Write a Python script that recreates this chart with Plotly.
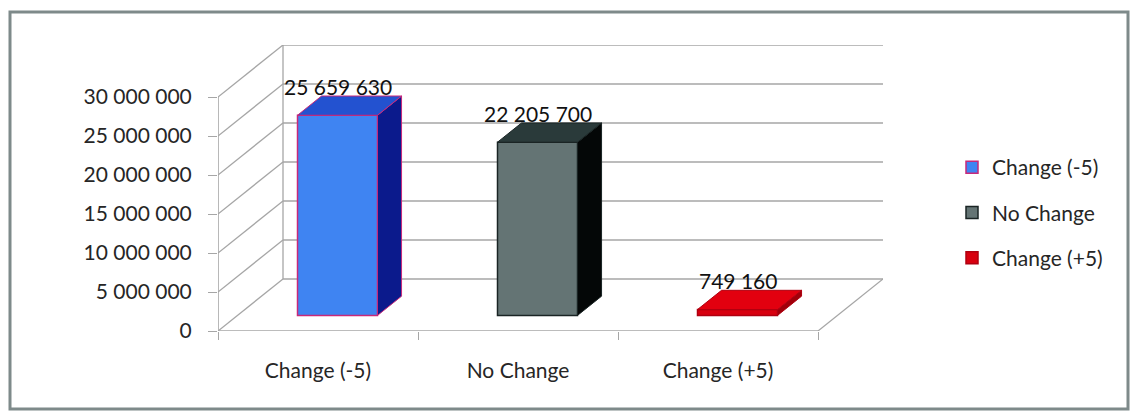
import plotly.graph_objects as go

# ---- data -------------------------------------------------------------
categories = ["Change (-5)", "No Change", "Change (+5)"]
values = [25659630, 22205700, 749160]
y_ticks = [0, 5000000, 10000000, 15000000, 20000000, 25000000, 30000000]

# ---- styles -----------------------------------------------------------
front_colors = ["#3f84f2", "#647474", "#d8000f"]
top_colors = ["#2352d0", "#2a3a3a", "#e2000f"]
side_colors = ["#0b1a8c", "#040707", "#a0000a"]
edge_colors = ["#c8287a", "#1a2424", "#b00010"]
GRID = "#a6a6a6"
TEXT = "#262626"
FONT = "Lato"

# ---- geometry of the pseudo-3D box -----------------------------------
W, H = 1134, 412
L, R, T, B = 218, 251, 45, 81
plot_w, plot_h = W - L - R, H - T - B

Y_MAX = y_ticks[-1]
DX = 0.325                  # depth offset along x (category units)
DY = Y_MAX * 0.2222         # depth offset along y (value units)
F_FRONT, F_BACK = 0.30, 0.67  # depth fractions of the bar front/back faces
BAR_W = 0.4

X_LO, X_HI = -0.5, len(categories) - 0.5


def fmt(v):
    return f"{v:,}".replace(",", " ")


def paper_x(p):
    return (p - L) / plot_w


def paper_y(p):
    return (H - B - p) / plot_h


fig = go.Figure()

# front faces of the bars
for i, (cat, v) in enumerate(zip(categories, values)):
    fig.add_trace(go.Bar(
        x=[i + F_FRONT * DX], y=[v], base=[F_FRONT * DY], width=BAR_W,
        name=cat, legendgroup=cat,
        marker=dict(color=front_colors[i],
                    line=dict(color=edge_colors[i], width=1.5)),
        hoverinfo="skip",
    ))

# top and side faces
bdx = (F_BACK - F_FRONT) * DX
bdy = (F_BACK - F_FRONT) * DY
for i, v in enumerate(values):
    x0 = i - BAR_W / 2 + F_FRONT * DX
    x1 = i + BAR_W / 2 + F_FRONT * DX
    y0 = F_FRONT * DY
    y1 = v + F_FRONT * DY
    fig.add_trace(go.Scatter(
        x=[x1, x1 + bdx, x1 + bdx, x1, x1],
        y=[y0, y0 + bdy, y1 + bdy, y1, y0],
        mode="lines", fill="toself", fillcolor=side_colors[i],
        line=dict(color=edge_colors[i], width=1),
        showlegend=False, hoverinfo="skip",
    ))
    fig.add_trace(go.Scatter(
        x=[x0, x1, x1 + bdx, x0 + bdx, x0],
        y=[y1, y1, y1 + bdy, y1 + bdy, y1],
        mode="lines", fill="toself", fillcolor=top_colors[i],
        line=dict(color=edge_colors[i], width=1),
        showlegend=False, hoverinfo="skip",
    ))

# walls, floor and gridlines (behind the bars)
shapes = []


def seg(xa, ya, xb, yb, width=1.3):
    shapes.append(dict(type="line", xref="x", yref="y", layer="below",
                       x0=xa, y0=ya, x1=xb, y1=yb,
                       line=dict(color=GRID, width=width)))


for t in y_ticks:
    seg(X_LO, t, X_LO + DX, t + DY)
    seg(X_LO + DX, t + DY, X_HI + DX, t + DY)
seg(X_LO + DX, DY, X_LO + DX, Y_MAX + DY)
seg(X_HI, 0, X_HI + DX, DY)
seg(X_LO, 0, X_HI, 0, 1.6)
seg(X_LO, 0, X_LO, Y_MAX, 1.6)

# outer frame of the chart
shapes.append(dict(type="rect", xref="paper", yref="paper", layer="above",
                   x0=paper_x(10), x1=paper_x(1128),
                   y0=paper_y(409), y1=paper_y(12),
                   line=dict(color="#7e8a8a", width=3)))

# value labels above the bars
annotations = []
for i, v in enumerate(values):
    annotations.append(dict(
        x=i + F_FRONT * DX, y=v + F_BACK * DY, xref="x", yref="y",
        text=fmt(v), showarrow=False, yanchor="bottom", yshift=-5,
        font=dict(family=FONT, size=21, color="#111111"),
    ))

fig.update_layout(
    width=W, height=H,
    margin=dict(l=L, r=R, t=T, b=B),
    paper_bgcolor="white",
    plot_bgcolor="rgba(0,0,0,0)",
    font=dict(family=FONT, size=21, color=TEXT),
    barmode="overlay",
    shapes=shapes,
    annotations=annotations,
    legend=dict(
        x=paper_x(952), y=paper_y(147), xanchor="left", yanchor="top",
        font=dict(family=FONT, size=21, color=TEXT),
        tracegroupgap=15, bgcolor="rgba(0,0,0,0)",
    ),
    xaxis=dict(
        range=[X_LO, X_HI + DX], showgrid=False, zeroline=False,
        showline=False, tickvals=list(range(len(categories))),
        ticktext=categories, ticks="", ticklabelstandoff=25,
        minor=dict(tickvals=[k - 0.5 for k in range(len(categories) + 1)],
                   ticks="outside", ticklen=8, tickcolor=GRID, showgrid=False),
        fixedrange=True,
    ),
    yaxis=dict(
        range=[0, Y_MAX + DY], showgrid=False, zeroline=False,
        showline=False, tickvals=y_ticks,
        ticktext=[fmt(t) for t in y_ticks],
        ticks="outside", ticklen=9, tickcolor=GRID, ticklabelstandoff=12,
        fixedrange=True,
    ),
)

fig.write_html("out.html")
